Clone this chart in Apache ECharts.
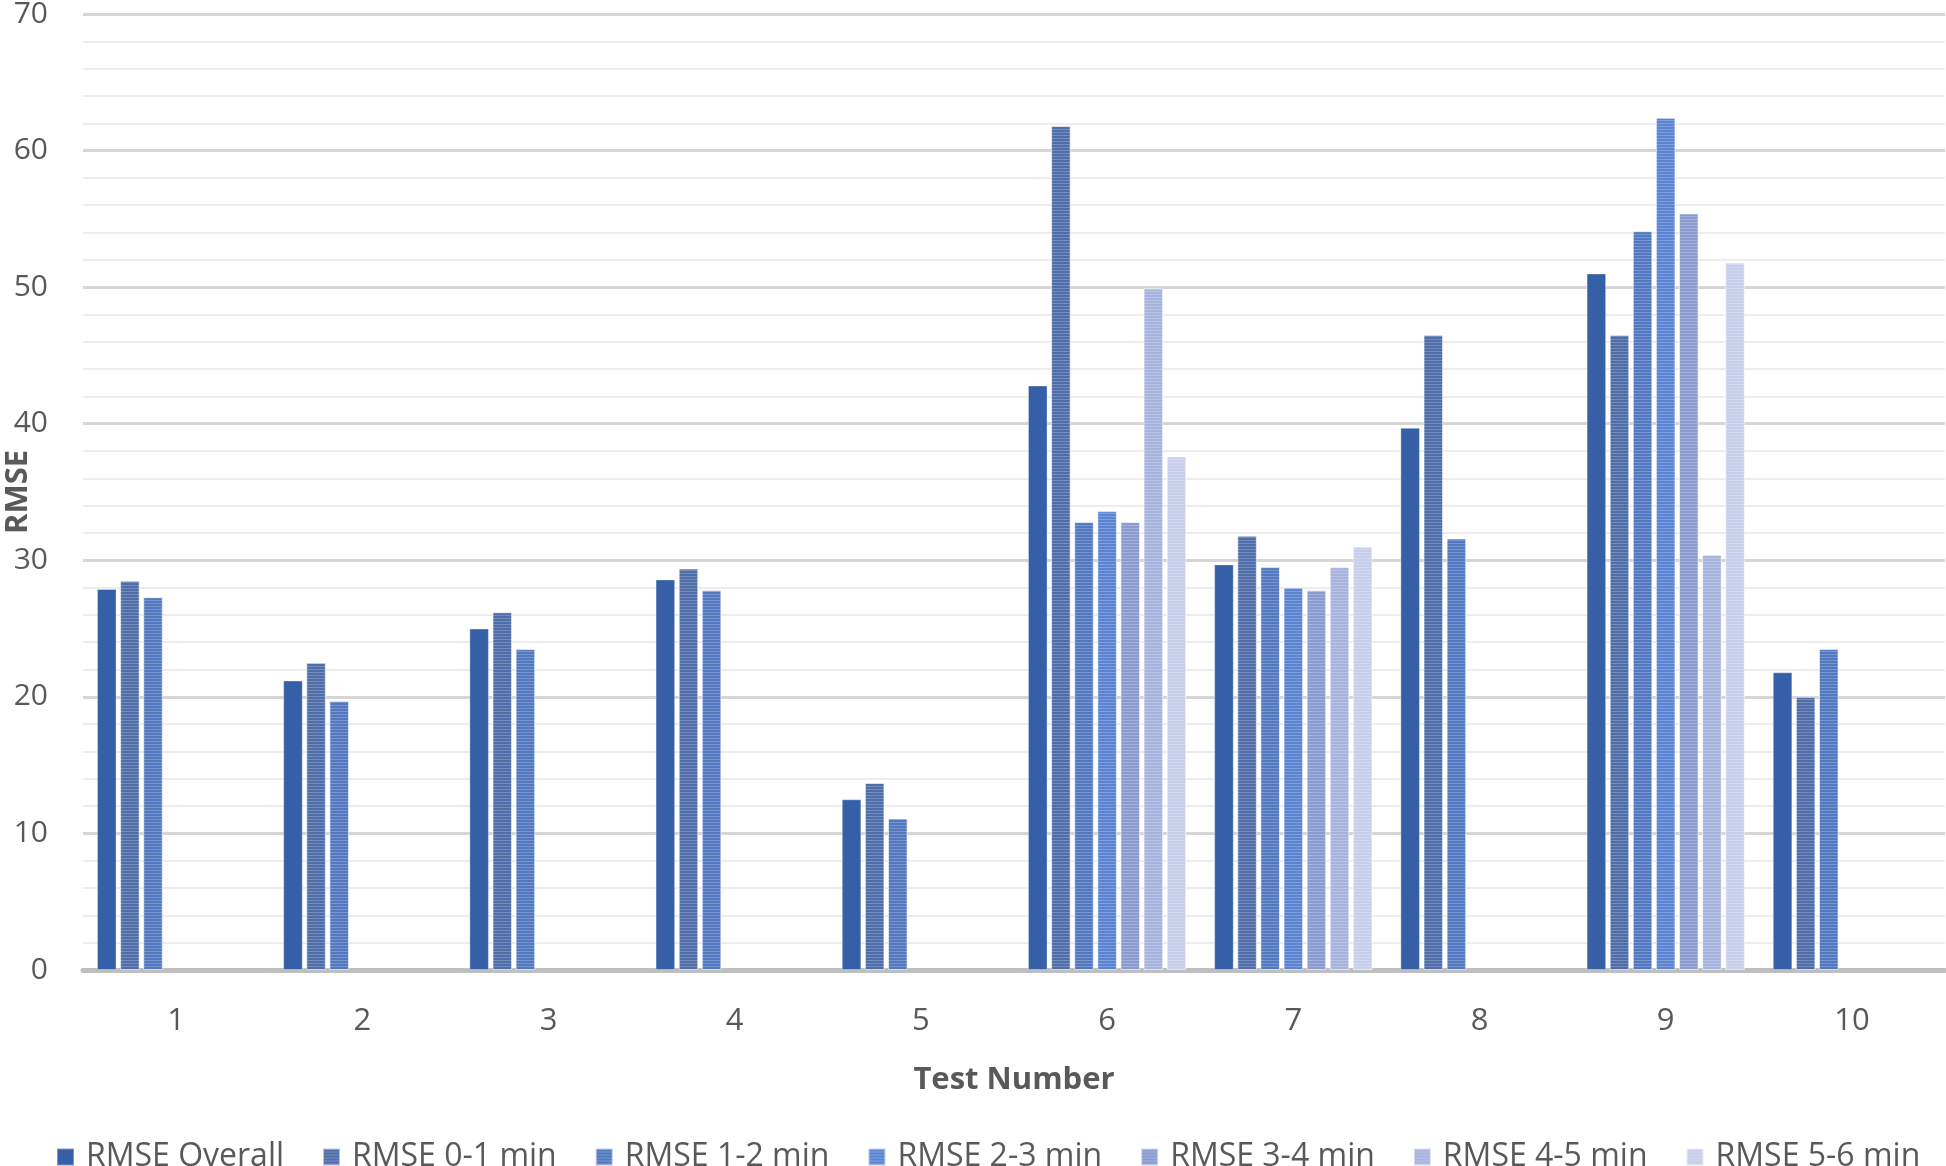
<!DOCTYPE html>
<html>
<head>
<meta charset="utf-8">
<script src="https://cdn.jsdelivr.net/npm/echarts@6/dist/echarts.min.js"></script>
<style>
html,body{margin:0;padding:0;background:#fff;}
#c{width:1946px;height:1166px;}
</style>
</head>
<body>
<div id="c"></div>
<script>
const categories = ['1','2','3','4','5','6','7','8','9','10'];
const seriesNames = ['RMSE Overall','RMSE 0-1 min','RMSE 1-2 min','RMSE 2-3 min','RMSE 3-4 min','RMSE 4-5 min','RMSE 5-6 min'];
const rmseOverall = [27.9, 21.2, 25.0, 28.6, 12.5, 42.8, 29.7, 39.7, 51.0, 21.8];
const rmse01 = [28.5, 22.5, 26.2, 29.4, 13.7, 61.8, 31.8, 46.5, 46.5, 20.0];
const rmse12 = [27.3, 19.7, 23.5, 27.8, 11.1, 32.8, 29.5, 31.6, 54.1, 23.5];
const rmse23 = [null, null, null, null, null, 33.6, 28.0, null, 62.4, null];
const rmse34 = [null, null, null, null, null, 32.8, 27.8, null, 55.4, null];
const rmse45 = [null, null, null, null, null, 49.9, 29.5, null, 30.4, null];
const rmse56 = [null, null, null, null, null, 37.6, 31.0, null, 51.8, null];
const yTicks = [0, 10, 20, 30, 40, 50, 60, 70];

const allData = [rmseOverall, rmse01, rmse12, rmse23, rmse34, rmse45, rmse56];
const colors = ['#3560A8', '#4F6DA8', '#5279C0', '#5A84D2', '#8A9BD0', '#A6B3DD', '#C6CEE9'];
const stripe = [false, true, true, true, true, true, true];

const series = allData.map((d, i) => {
  const itemStyle = {
    color: colors[i],
    borderColor: 'rgba(255,255,255,0.35)',
    borderWidth: 1
  };
  if (stripe[i]) {
    itemStyle.decal = {
      symbol: 'rect', symbolSize: 1,
      dashArrayX: [1, 0], dashArrayY: [1, 2],
      color: 'rgba(255,255,255,0.22)'
    };
  }
  return {
    name: seriesNames[i],
    type: 'bar',
    data: d,
    barCategoryGap: '15%',
    barGap: '18%',
    itemStyle: itemStyle
  };
});

const chart = echarts.init(document.getElementById('c'));
chart.setOption({
  animation: false,
  color: colors,
  textStyle: { fontFamily: 'Open Sans', color: '#595959' },
  grid: { left: 83, right: 1, top: 14, bottom: 196, containLabel: false, outerBoundsMode: 'none' },
  legend: {
    left: 51, top: 1136,
    itemWidth: 17, itemHeight: 17, itemGap: 38,
    icon: 'rect',
    textStyle: { fontSize: 32, color: '#595959', fontFamily: 'Open Sans', padding: [0, 0, 0, 7] },
    data: seriesNames
  },
  xAxis: {
    type: 'category',
    data: categories,
    name: 'Test Number',
    nameLocation: 'middle',
    nameGap: 95,
    nameMoveOverlap: false,
    nameTextStyle: { fontSize: 31, fontWeight: 'bold', color: '#595959' },
    axisLine: { lineStyle: { color: '#BFBFBF', width: 5 } },
    axisTick: { show: false },
    axisLabel: { fontSize: 31, color: '#595959', margin: 36 }
  },
  yAxis: {
    type: 'value',
    min: yTicks[0], max: yTicks[yTicks.length - 1], interval: 10,
    name: 'RMSE',
    nameLocation: 'middle',
    nameGap: 49,
    nameMoveOverlap: false,
    nameTextStyle: { fontSize: 31, fontWeight: 'bold', color: '#595959' },
    axisLine: { show: false },
    axisTick: { show: false },
    axisLabel: { fontSize: 30, color: '#595959', margin: 35, padding: [4, 0, 0, 0] },
    splitLine: { lineStyle: { color: '#D6D6D6', width: 3 } },
    minorTick: { show: false, splitNumber: 5 },
    minorSplitLine: { show: true, lineStyle: { color: '#EDEDED', width: 2 } }
  },
  series: series
});
</script>
</body>
</html>
